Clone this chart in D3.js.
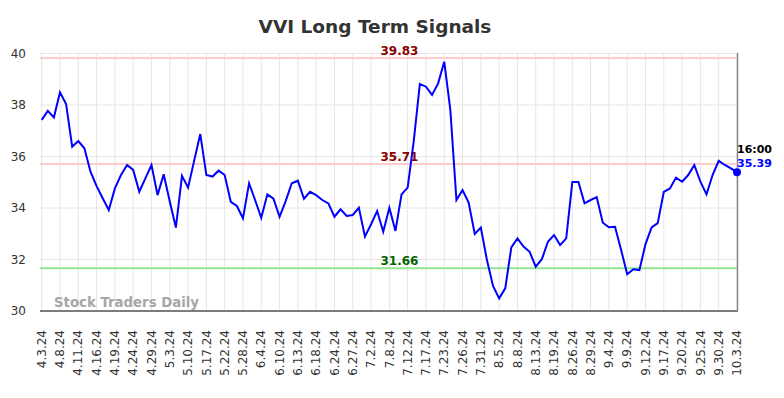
<!DOCTYPE html>
<head>
    <title>VVI Long Term Signals</title>
    <script src='https://d3js.org/d3.v7.min.js'></script>
    <style>
        body { margin: 0; background: #fff; }
        text { font-family: 'DejaVu Sans', sans-serif; }
    </style>
</head>
<body>
    <svg></svg>
</body>

<script>
    var vWidth = 784;
    var vHeight = 398;

    // Closing values, one per trading day shown
    var vPrices = [
        37.42, 37.77, 37.52, 38.49, 38.04, 36.38, 36.60, 36.32, 35.41, 34.85,
        34.38, 33.92, 34.76, 35.28, 35.67, 35.48, 34.63, 35.15, 35.67, 34.50,
        35.31, 34.25, 33.24, 35.25, 34.79, 35.84, 36.87, 35.28, 35.22, 35.45,
        35.28, 34.24, 34.08, 33.60, 34.96, 34.30, 33.62, 34.53, 34.36, 33.66,
        34.27, 34.96, 35.06, 34.36, 34.63, 34.50, 34.31, 34.18, 33.66, 33.95,
        33.69, 33.73, 34.01, 32.89, 33.37, 33.88, 33.08, 34.01, 33.11, 34.53,
        34.79, 36.60, 38.82, 38.71, 38.39, 38.84, 39.68, 37.81, 34.31, 34.70,
        34.21, 32.99, 33.24, 31.98, 30.97, 30.49, 30.88, 32.47, 32.82, 32.50,
        32.30, 31.72, 32.01, 32.69, 32.95, 32.56, 32.82, 35.01, 35.01, 34.18,
        34.31, 34.42, 33.43, 33.25, 33.27, 32.37, 31.43, 31.62, 31.59, 32.60,
        33.25, 33.41, 34.63, 34.76, 35.18, 35.02, 35.28, 35.67, 35.02, 34.53,
        35.28, 35.83, 35.67, 35.54, 35.39
    ];

    // Tick labels, every third point
    var vDateLabels = [
        '4.3.24', '4.8.24', '4.11.24', '4.16.24', '4.19.24', '4.24.24', '4.29.24',
        '5.3.24', '5.10.24', '5.17.24', '5.22.24', '5.28.24', '6.4.24', '6.10.24',
        '6.13.24', '6.18.24', '6.24.24', '6.27.24', '7.2.24', '7.8.24', '7.12.24',
        '7.17.24', '7.23.24', '7.26.24', '7.31.24', '8.5.24', '8.8.24', '8.13.24',
        '8.19.24', '8.26.24', '8.29.24', '9.4.24', '9.9.24', '9.12.24', '9.17.24',
        '9.20.24', '9.25.24', '9.30.24', '10.3.24'
    ];

    var vYTicks = [30, 32, 34, 36, 38, 40];

    // Signal levels
    var vLevels = [39.83, 35.71, 31.66];
    var vLevelColors = ['#ffcccc', '#ffcccc', '#90e690'];
    var vLevelTextColors = ['#8b0000', '#8b0000', '#006400'];

    var vLastTime = '16:00';

    var svg = d3.select('svg').attr('width', vWidth).attr('height', vHeight);

    var x = d3.scalePoint().domain(d3.range(vPrices.length)).range([41.7, 737]);
    var y = d3.scaleLinear().domain([30, 40]).range([311, 53.5]);

    var vTickIdx = vDateLabels.map(function (d, i) { return i * 3; });

    // Grid
    svg.append('g').selectAll('line').data(vTickIdx).enter().append('line')
        .attr('x1', function (d) { return x(d); }).attr('x2', function (d) { return x(d); })
        .attr('y1', y(40)).attr('y2', y(30))
        .style('stroke', '#e6e6e6').style('stroke-width', 1);
    svg.append('g').selectAll('line').data(vYTicks).enter().append('line')
        .attr('x1', 40).attr('x2', 737)
        .attr('y1', function (d) { return y(d); }).attr('y2', function (d) { return y(d); })
        .style('stroke', '#e6e6e6').style('stroke-width', 1);

    // Y labels
    svg.append('g').selectAll('text').data(vYTicks).enter().append('text')
        .attr('x', 26).attr('y', function (d) { return y(d); })
        .attr('dy', '0.35em')
        .attr('text-anchor', 'end')
        .style('font-size', '12px').style('fill', '#333')
        .text(function (d) { return d; });

    // X labels
    svg.append('g').selectAll('text').data(vTickIdx).enter().append('text')
        .attr('transform', function (d) { return 'translate(' + x(d) + ',330) rotate(-90)'; })
        .attr('dy', '0.35em')
        .attr('text-anchor', 'end')
        .style('font-size', '12px').style('fill', '#333')
        .text(function (d, i) { return vDateLabels[i]; });

    // Axis lines
    svg.append('line').attr('x1', 40).attr('x2', 738).attr('y1', 311).attr('y2', 311)
        .style('stroke', '#555').style('stroke-width', 1.5);
    svg.append('line').attr('x1', 737.5).attr('x2', 737.5).attr('y1', 53).attr('y2', 311)
        .style('stroke', '#888').style('stroke-width', 1.5);

    // Signal lines + labels
    vLevels.forEach(function (v, i) {
        svg.append('line').attr('x1', 40).attr('x2', 737)
            .attr('y1', y(v)).attr('y2', y(v))
            .style('stroke', vLevelColors[i]).style('stroke-width', 2);
        svg.append('text').attr('x', 399.5).attr('y', y(v) - 3)
            .attr('text-anchor', 'middle')
            .style('font-size', '12px').style('font-weight', 'bold')
            .style('fill', vLevelTextColors[i])
            .text(v.toFixed(2));
    });

    // Watermark
    svg.append('text').attr('x', 54).attr('y', 307)
        .style('font-size', '13.3px').style('font-weight', 'bold').style('fill', '#a6a6a6')
        .text('Stock Traders Daily');

    // Price line
    var vLine = d3.line()
        .x(function (d, i) { return x(i); })
        .y(function (d) { return y(d); });
    svg.append('path').datum(vPrices)
        .attr('d', vLine)
        .style('fill', 'none').style('stroke', '#0000ff').style('stroke-width', 2);

    var vLast = vPrices.length - 1;
    svg.append('circle').attr('cx', x(vLast)).attr('cy', y(vPrices[vLast])).attr('r', 4)
        .style('fill', '#0000ff');
    svg.append('text').attr('x', x(vLast)).attr('y', y(vPrices[vLast]) - 19)
        .style('font-size', '11px').style('font-weight', 'bold').style('fill', '#000')
        .text(vLastTime);
    svg.append('text').attr('x', x(vLast)).attr('y', y(vPrices[vLast]) - 5)
        .style('font-size', '11px').style('font-weight', 'bold').style('fill', '#0000ff')
        .text(vPrices[vLast].toFixed(2));

    // Title
    svg.append('text').attr('x', 375).attr('y', 33)
        .attr('text-anchor', 'middle')
        .style('font-size', '18.5px').style('font-weight', 'bold').style('fill', '#333')
        .text('VVI Long Term Signals');
</script>
